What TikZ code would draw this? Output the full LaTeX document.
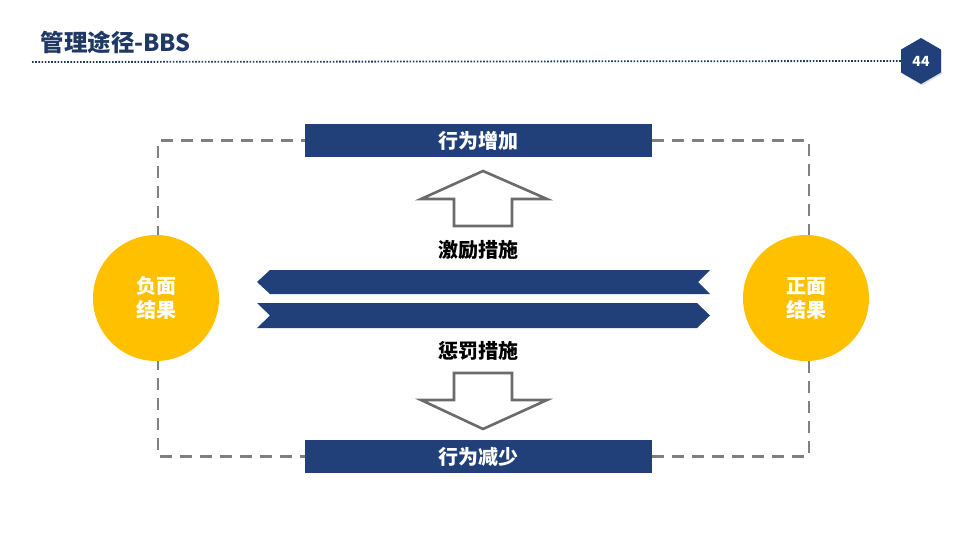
\documentclass[tikz,border=0pt]{standalone}
\usepackage{fontspec}
\setmainfont{Noto Sans CJK SC}
\usetikzlibrary{shapes.geometric,shadows}
\definecolor{navy}{HTML}{213F78}
\definecolor{titleblue}{HTML}{1F3864}
\definecolor{gold}{HTML}{FFC000}
\definecolor{dashgray}{HTML}{808080}
\definecolor{arrowgray}{HTML}{6B6B6B}

\begin{document}
\begin{tikzpicture}[x=1pt, y=-1pt,
  bar/.style={fill=navy, text=white, minimum width=347pt, minimum height=33pt, inner sep=0pt,
    font=\bfseries\fontsize{20}{22}\selectfont},
  result/.style={circle, fill=gold, text=white, minimum size=126pt, inner sep=0pt, align=center,
    font=\bfseries\fontsize{20}{24}\selectfont},
  measure/.style={font=\bfseries\fontsize{20}{22}\selectfont},
  dashline/.style={draw=dashgray, line width=2.6pt, dash pattern=on 12pt off 8pt},
  dotline/.style={draw=titleblue, line width=1.8pt, dash pattern=on 1.6pt off 1.6pt},
  hollow/.style={draw=arrowgray, line width=2.6pt, fill=white, line join=miter},
  ribbon/.style={fill=navy}]
  \useasboundingbox (0,0) rectangle (960,540);
  % ---------------------------------------------------------------- header
  \node[anchor=west, text=titleblue, font=\bfseries\fontsize{23.5}{26}\selectfont] (title) at (37,42) {管理途径-BBS};
  \node[regular polygon, regular polygon sides=6, shape border rotate=90, fill=navy, minimum size=46pt,
    inner sep=0pt, text=white, font=\bfseries\fontsize{14}{14}\selectfont,
    drop shadow={opacity=0.25, shadow xshift=1pt, shadow yshift=-1.5pt}] (page) at (921,61) {44};
  \coordinate (rule) at (32,62);
  \draw[dotline] (rule) -- (page.west);
  % ---------------------------------------------------------------- outcomes and behaviour
  \node[bar] (inc) at (478.5,140.5) {行为增加};
  \node[bar] (dec) at (478.5,456.5) {行为减少};
  % the dashed loop, behind the circles
  \coordinate (negtop) at (158,298);
  \coordinate (postop) at (809,298);
  \draw[dashline] (negtop) |- (inc.west);
  \draw[dashline] (inc.east) -| (postop);
  \draw[dashline] (negtop) |- (dec.west);
  \draw[dashline] (dec.east) -| (postop);
  \node[result] (neg) at (156,298) {负面\\结果};
  \node[result] (pos) at (806,298) {正面\\结果};
  % ---------------------------------------------------------------- measures
  \node[measure] (reward) at (478,250) {激励措施};
  \node[measure] (punish) at (478,351) {惩罚措施};
  % hollow arrows
  \draw[hollow] (454,226) -- (454,199) -- (421,199) -- (483,171) -- (547,199) -- (512,199) -- (512,226) -- cycle;
  \draw[hollow] (454,373) -- (512,373) -- (512,400) -- (547,400) -- (483,429) -- (421,400) -- (454,400) -- cycle;
  % ribbons between the two outcomes
  \fill[ribbon] (270,270) -- (710,270) -- (698,282) -- (710,294) -- (270,294) -- (257,282) -- cycle;
  \fill[ribbon] (257,303) -- (697,303) -- (710,315.5) -- (697,328) -- (257,328) -- (270,315.5) -- cycle;
\end{tikzpicture}
\end{document}
